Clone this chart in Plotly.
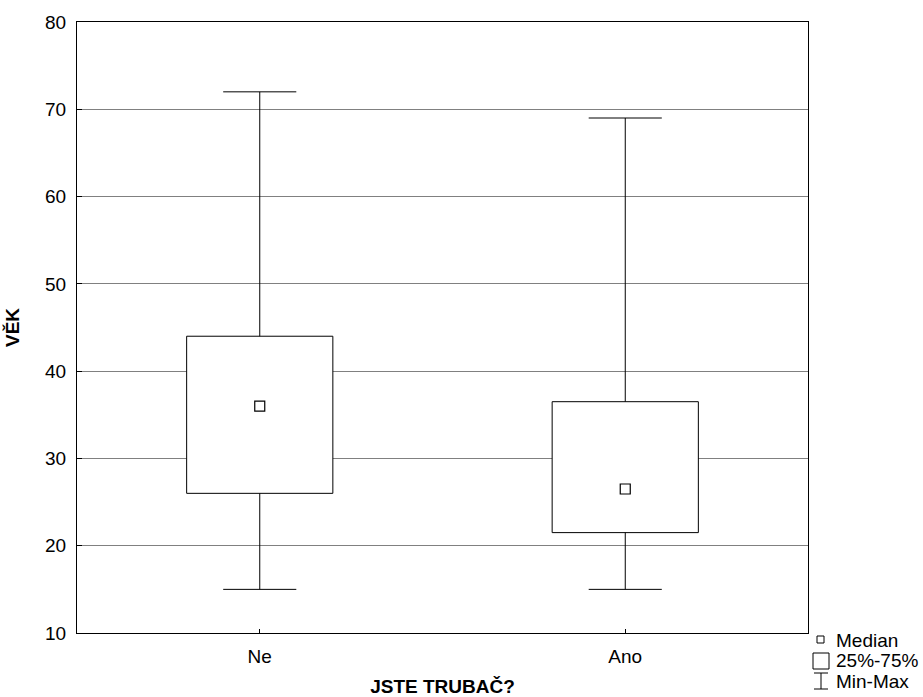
import plotly.graph_objects as go

categories = ["Ne", "Ano"]
mins = [15, 15]
q1s = [26, 21.5]
medians = [36, 26.5]
q3s = [44, 36.5]
maxs = [72, 69]

y_ticks = [10, 20, 30, 40, 50, 60, 70, 80]

FONT = "Liberation Sans, Arial, sans-serif"
BOX_W = 0.4
CAP_W = 0.2

xs = list(range(len(categories)))

fig = go.Figure()

# boxes 25%-75%
fig.add_trace(go.Bar(
    x=xs,
    y=[q3 - q1 for q1, q3 in zip(q1s, q3s)],
    base=q1s,
    width=BOX_W,
    marker=dict(color="white", line=dict(color="black", width=1)),
    showlegend=False,
    hoverinfo="skip"
))

# whiskers and caps
wx, wy = [], []
for x, lo, q1, q3, hi in zip(xs, mins, q1s, q3s, maxs):
    wx += [x, x, None, x, x, None]
    wy += [hi, q3, None, q1, lo, None]
    wx += [x - CAP_W / 2, x + CAP_W / 2, None, x - CAP_W / 2, x + CAP_W / 2, None]
    wy += [hi, hi, None, lo, lo, None]
fig.add_trace(go.Scatter(
    x=wx, y=wy, mode="lines",
    line=dict(color="black", width=1),
    showlegend=False, hoverinfo="skip"
))

# medians
fig.add_trace(go.Scatter(
    x=xs, y=medians, mode="markers",
    marker=dict(symbol="square-open", size=10, color="black", line=dict(width=1.2)),
    showlegend=False
))

fig.update_layout(
    width=923, height=697,
    margin=dict(l=77, r=115, t=22, b=64),
    plot_bgcolor="white", paper_bgcolor="white",
    font=dict(family=FONT, size=19, color="black"),
    barmode="overlay",
    xaxis=dict(
        range=[-0.5, 1.5], tickvals=xs, ticktext=categories,
        showgrid=False, zeroline=False, automargin=False,
        showline=True, linecolor="black", linewidth=1, mirror=True,
        ticks="inside", ticklen=4, tickcolor="black",
        ticklabelstandoff=6,
        title=dict(text="<b>JSTE TRUBAČ?</b>", font=dict(size=19), standoff=14),
    ),
    yaxis=dict(
        range=[10, 80], tickvals=y_ticks,
        showgrid=True, gridcolor="#808080", gridwidth=1, zeroline=False,
        automargin=False,
        showline=True, linecolor="black", linewidth=1, mirror=True,
        ticks="inside", ticklen=5, tickcolor="black",
        ticklabelstandoff=6,
        title=dict(text="<b>VĚK</b>", font=dict(size=19), standoff=20),
    ),
)

# legend drawn by hand, positions given in page pixels
def px_x(p):
    return (p - 77) / 731

def px_y(p):
    return (633 - p) / 611

shapes = [
    dict(type="rect", xref="paper", yref="paper",
         x0=px_x(817), x1=px_x(824), y0=px_y(636), y1=px_y(643),
         line=dict(color="black", width=1)),
    dict(type="rect", xref="paper", yref="paper",
         x0=px_x(813), x1=px_x(829), y0=px_y(653), y1=px_y(669),
         line=dict(color="black", width=1)),
    dict(type="line", xref="paper", yref="paper",
         x0=px_x(821), x1=px_x(821), y0=px_y(673), y1=px_y(689),
         line=dict(color="black", width=1)),
    dict(type="line", xref="paper", yref="paper",
         x0=px_x(814), x1=px_x(828), y0=px_y(673), y1=px_y(673),
         line=dict(color="black", width=1)),
    dict(type="line", xref="paper", yref="paper",
         x0=px_x(814), x1=px_x(828), y0=px_y(689), y1=px_y(689),
         line=dict(color="black", width=1)),
]
legend_labels = ["Median", "25%-75%", "Min-Max"]
legend_y = [640, 660, 681]
annotations = [
    dict(text=t, xref="paper", yref="paper", x=px_x(834), y=px_y(yy),
         xanchor="left", yanchor="middle", showarrow=False,
         font=dict(size=19))
    for t, yy in zip(legend_labels, legend_y)
]
fig.update_layout(shapes=shapes, annotations=annotations)

# drop the browser's default 8px body margin so the figure sits at 0,0
fig.write_html("out.html", config={"displayModeBar": False},
               post_script="document.body.style.margin='0px';")
